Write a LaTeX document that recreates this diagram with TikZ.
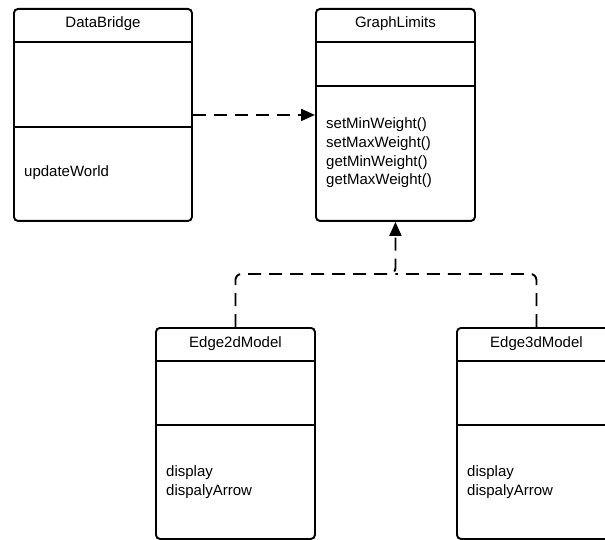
\documentclass[tikz,border=0pt]{standalone}
\usepackage{fontspec}
\setmainfont{Liberation Sans}
\usetikzlibrary{arrows.meta,positioning,calc}

\tikzset{
  classbox/.style={draw, line width=1.9pt, rounded corners=4pt, fill=white,
    minimum width=159pt, minimum height=212pt, anchor=north west, inner sep=0pt},
  sepline/.style={line width=1.9pt},
  classname/.style={font=\fontsize{15}{18.8}\selectfont, anchor=base, inner sep=0pt},
  members/.style={font=\fontsize{15}{18.8}\selectfont, anchor=base west, align=left, inner sep=0pt},
  dep/.style={line width=1.9pt, dash pattern=on 13pt off 8pt, -{Triangle[length=14pt,width=12pt]}},
  deplink/.style={line width=1.9pt, dash pattern=on 13pt off 8pt, rounded corners=6pt}
}

\begin{document}
\begin{tikzpicture}[x=1pt,y=-1pt]
    \clip (0,0) rectangle (605,540);
    \fill[white] (0,0) rectangle (605,540);

    % DataBridge
    \node[classbox, minimum width=178pt] (bridge) at (13,8) {};
    \node[classname] (bridgename) at ($(bridge.north)+(0,20)$) {DataBridge};
    \draw[sepline] ($(bridge.north west)+(0,34)$) -- ($(bridge.north east)+(0,34)$);
    \draw[sepline] ($(bridge.north west)+(0,119)$) -- ($(bridge.north east)+(0,119)$);
    \node[members] (bridgeops) at ($(bridge.north west)+(11,169)$) {updateWorld};

    % GraphLimits (base = last line)
    \node[classbox] (limits) at (315,8) {};
    \node[classname] (limitsname) at ($(limits.north)+(0,20)$) {GraphLimits};
    \draw[sepline] ($(limits.north west)+(0,34)$) -- ($(limits.north east)+(0,34)$);
    \draw[sepline] ($(limits.north west)+(0,78)$) -- ($(limits.north east)+(0,78)$);
    \node[members] (limitsops) at ($(limits.north west)+(11,177)$)
      {setMinWeight()\\setMaxWeight()\\getMinWeight()\\getMaxWeight()};

    % Edge2dModel
    \node[classbox, minimum height=211pt] (edgetwo) at (155,327) {};
    \node[classname] (edgetwoname) at ($(edgetwo.north)+(0,20)$) {Edge2dModel};
    \draw[sepline] ($(edgetwo.north west)+(0,34)$) -- ($(edgetwo.north east)+(0,34)$);
    \draw[sepline] ($(edgetwo.north west)+(0,98)$) -- ($(edgetwo.north east)+(0,98)$);
    \node[members] (edgetwoops) at ($(edgetwo.north west)+(11,168)$) {display\\dispalyArrow};

    % Edge3dModel
    \node[classbox, minimum height=211pt] (edgethree) at (456,327) {};
    \node[classname] (edgethreename) at ($(edgethree.north)+(0,20)$) {Edge3dModel};
    \draw[sepline] ($(edgethree.north west)+(0,34)$) -- ($(edgethree.north east)+(0,34)$);
    \draw[sepline] ($(edgethree.north west)+(0,98)$) -- ($(edgethree.north east)+(0,98)$);
    \node[members] (edgethreeops) at ($(edgethree.north west)+(11,168)$) {display\\dispalyArrow};

    % dependencies
    \draw[dep] (bridge) -- (limits);
    \coordinate (join) at (limits.south |- 0,274);
    \draw[deplink, dep] (edgetwo.north) |- (join) -- (limits.south);
    \draw[deplink] (edgethree.north) |- (join);
\end{tikzpicture}
\end{document}
